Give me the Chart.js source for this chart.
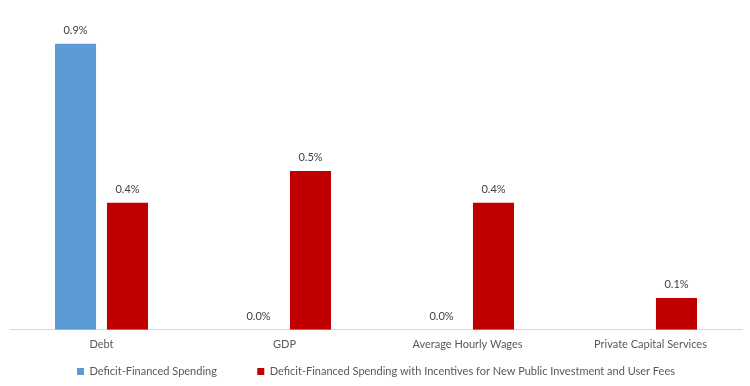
<!DOCTYPE html>
<html><head><meta charset="utf-8">
<script src="https://cdn.jsdelivr.net/npm/chart.js@4/dist/chart.umd.min.js"></script>
<style>html,body{margin:0;padding:0;background:#fff}#wrap{width:750px;height:386px}</style>
</head><body><div id="wrap"><canvas id="c" width="750" height="386"></canvas></div>
<script>
const categories = ["Debt", "GDP", "Average Hourly Wages", "Private Capital Services"];
const deficitFinanced = [0.9, 0.0, 0.0, null];
const withIncentives = [0.4, 0.5, 0.4, 0.1];
const seriesNames = ["Deficit-Financed Spending", "Deficit-Financed Spending with Incentives for New Public Investment and User Fees"];

const FONT = "Lato, 'Open Sans', sans-serif";
const labelPlugin = {
  id: 'barLabels',
  afterDatasetsDraw(chart) {
    const ctx = chart.ctx;
    ctx.save();
    ctx.font = "11px " + FONT;
    ctx.fillStyle = "#404040";
    ctx.textAlign = "center";
    ctx.textBaseline = "alphabetic";
    chart.data.datasets.forEach((ds, i) => {
      const meta = chart.getDatasetMeta(i);
      meta.data.forEach((bar, j) => {
        const v = ds.data[j];
        if (v === null || v === undefined) return;
        ctx.fillText(v.toFixed(1) + "%", bar.x, bar.y - 10);
      });
    });
    ctx.restore();
  }
};

new Chart(document.getElementById('c'), {
  type: 'bar',
  data: {
    labels: categories,
    datasets: [
      { label: seriesNames[0], data: deficitFinanced, backgroundColor: '#5b9bd5', barPercentage: 0.79, categoryPercentage: 0.568 },
      { label: seriesNames[1], data: withIncentives, backgroundColor: '#c00000', barPercentage: 0.79, categoryPercentage: 0.568 }
    ]
  },
  options: {
    responsive: false,
    animation: false,
    layout: { padding: { left: 10, right: 8, top: 12, bottom: -1 } },
    scales: {
      x: {
        grid: { display: false },
        border: { color: '#d9d9d9' },
        ticks: { color: '#595959', font: { family: FONT, size: 11 }, padding: 0 }
      },
      y: { display: false, min: 0, max: 1.0 }
    },
    plugins: {
      legend: {
        position: 'bottom',
        labels: {
          boxWidth: 7, boxHeight: 7, color: '#595959', font: { family: FONT, size: 11 }, padding: 15,
          generateLabels(chart) {
            const items = Chart.defaults.plugins.legend.labels.generateLabels(chart);
            items[0].text = items[0].text + '         ';
            return items;
          }
        }
      },
      tooltip: { enabled: false }
    }
  },
  plugins: [labelPlugin]
});
</script></body></html>
